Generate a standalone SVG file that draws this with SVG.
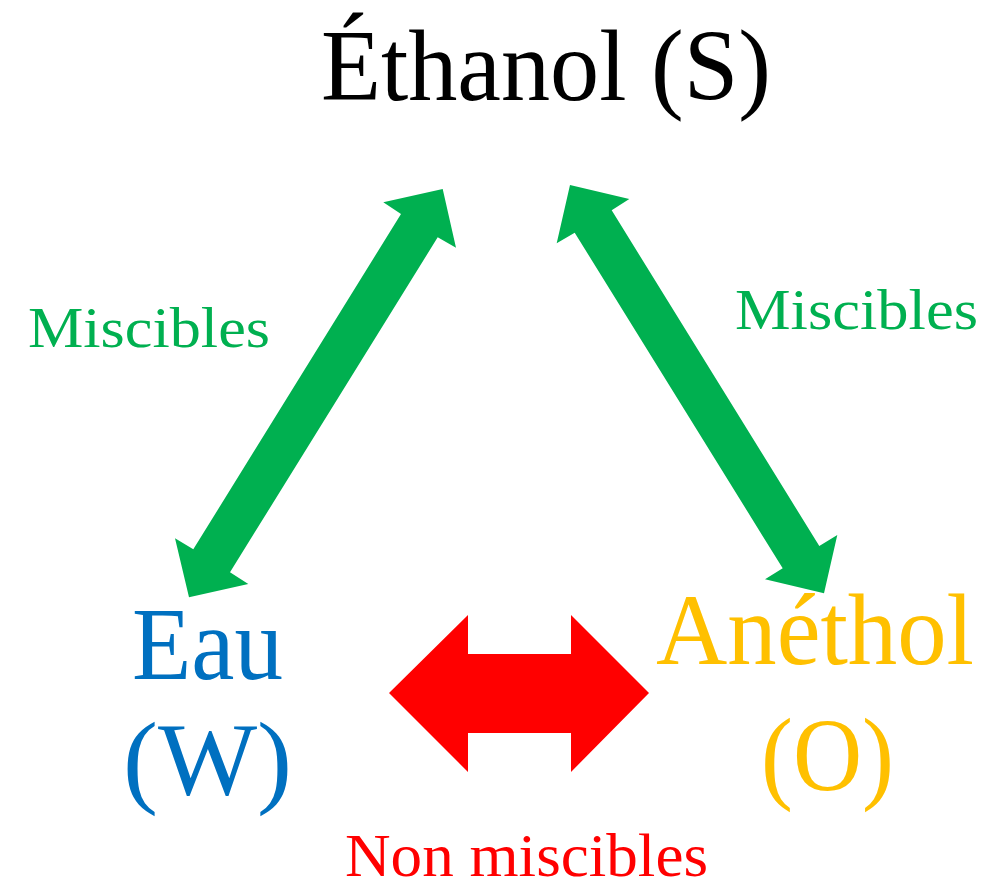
<svg xmlns="http://www.w3.org/2000/svg" width="1008" height="885" viewBox="0 0 1008 885">
<style>
text{font-family:"Liberation Serif","Times New Roman",serif;}
.green{fill:#00B050;}
.lbl{font-size:58px;fill:#00B050;}
</style>
<rect width="1008" height="885" fill="#fff"/>
<g id="connectors">
<polygon class="green" points="442.7,189 456,247.7 437.7,237.3 230,572.3 248.3,584 189,597.3 175,538.3 193.3,549.3 401,214 383.3,202.3"/>
<polygon class="green" points="570,185 629.3,199 611.7,210.3 819.3,546 837.3,535 824,593.3 765,579.3 782.7,568.3 574.7,232.7 556.7,243.3"/>
<polygon fill="#FF0000" points="389,693 468,615 468,654 571,654 571,615 649,693 571,772 571,733 468,733 468,772"/>
<text class="lbl" x="28" y="347" textLength="242" lengthAdjust="spacingAndGlyphs">Miscibles</text>
<text class="lbl" x="735" y="329" textLength="243" lengthAdjust="spacingAndGlyphs">Miscibles</text>
<text x="345" y="876" font-size="62" fill="#FF0000" textLength="363" lengthAdjust="spacingAndGlyphs">Non miscibles</text>
</g>
<g id="ethanol">
<text x="321" y="100" font-size="101" fill="#000" textLength="450" lengthAdjust="spacingAndGlyphs">Éthanol (S)</text>
</g>
<g id="eau">
<text x="132" y="679" font-size="103" fill="#0070C0" textLength="151" lengthAdjust="spacingAndGlyphs">Eau</text>
<text x="123" y="794" font-size="103" fill="#0070C0" textLength="169" lengthAdjust="spacingAndGlyphs">(W)</text>
</g>
<g id="anethol">
<text x="656" y="664" font-size="101" fill="#FFC000" textLength="318" lengthAdjust="spacingAndGlyphs">Anéthol</text>
<text x="761" y="790" font-size="103" fill="#FFC000" textLength="133" lengthAdjust="spacingAndGlyphs">(O)</text>
</g>
</svg>
